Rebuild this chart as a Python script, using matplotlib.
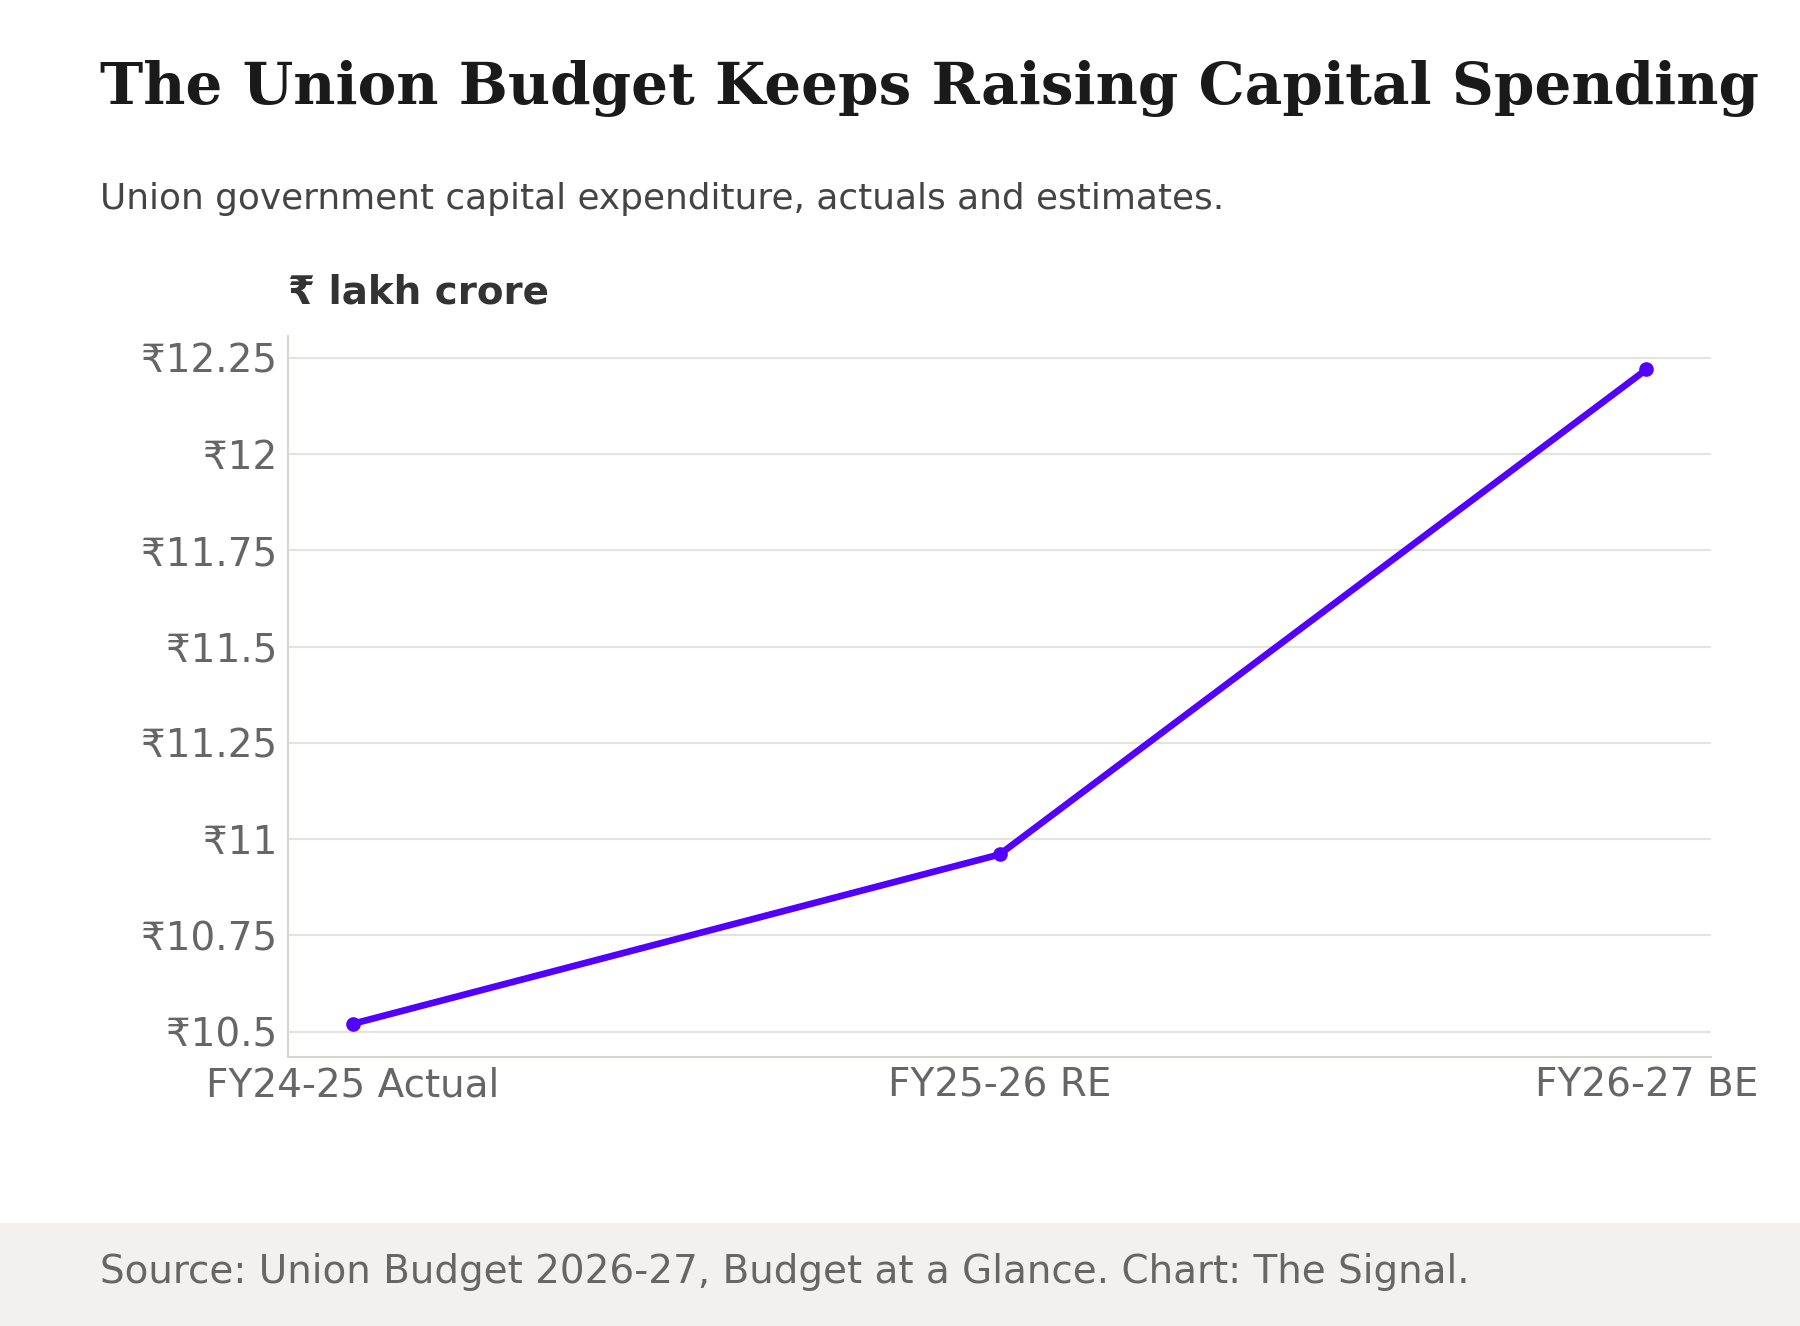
import matplotlib
matplotlib.use("Agg")
import matplotlib.pyplot as plt
from matplotlib.patches import Rectangle

categories = ["FY24-25 Actual", "FY25-26 RE", "FY26-27 BE"]
capex = [10.52, 10.96, 12.22]
yticks = [10.5, 10.75, 11.0, 11.25, 11.5, 11.75, 12.0, 12.25]
ytick_labels = ["₹10.5", "₹10.75", "₹11", "₹11.25", "₹11.5", "₹11.75", "₹12", "₹12.25"]

title = "The Union Budget Keeps Raising Capital Spending"
subtitle = "Union government capital expenditure, actuals and estimates."
unit = "₹ lakh crore"
source = "Source: Union Budget 2026-27, Budget at a Glance. Chart: The Signal."

plt.rcParams['font.family'] = ['DejaVu Sans']
fig = plt.figure(figsize=(18, 13.26), dpi=100)
fig.patch.set_facecolor("white")

# footer band
fig.patches.append(Rectangle((0, 0), 1, 0.0777, transform=fig.transFigure,
                             facecolor="#f2f1ef", edgecolor="none", zorder=0))

ax = fig.add_axes([0.16, 0.2029, 0.7906, 0.5437])
x = list(range(len(categories)))
ax.plot(x, capex, color="#5200ff", linewidth=4.8, marker="o", markersize=9.5,
        solid_capstyle="round", zorder=3)
ax.set_xlim(-0.1, 2.1)
ax.set_ylim(10.434, 12.307)
ax.set_yticks(yticks)
ax.set_yticklabels(ytick_labels)
ax.set_xticks(x)
ax.set_xticklabels(categories)
ax.grid(axis="y", color="#e3e3e0", linewidth=1.5, zorder=0)
ax.set_axisbelow(True)
for s in ["top", "right"]:
    ax.spines[s].set_visible(False)
for s in ["left", "bottom"]:
    ax.spines[s].set_color("#d6d5d0")
    ax.spines[s].set_linewidth(1.5)
ax.tick_params(axis="both", length=0, labelsize=28, labelcolor="#666666")
ax.tick_params(axis="y", pad=8)
ax.tick_params(axis="x", pad=7)

fig.text(0.0556, 0.9332, title, fontsize=41.75, fontweight="bold", family="DejaVu Serif",
         color="#1a1a1a", va="center", ha="left")
fig.text(0.0556, 0.8497, subtitle, fontsize=25.85, color="#444444", va="center", ha="left")
fig.text(0.16, 0.7796, unit, fontsize=28, fontweight="bold", color="#333333",
         va="center", ha="left")
fig.text(0.0556, 0.0407, source, fontsize=28, color="#666666", va="center", ha="left")

fig.savefig("out.png", dpi=100)
